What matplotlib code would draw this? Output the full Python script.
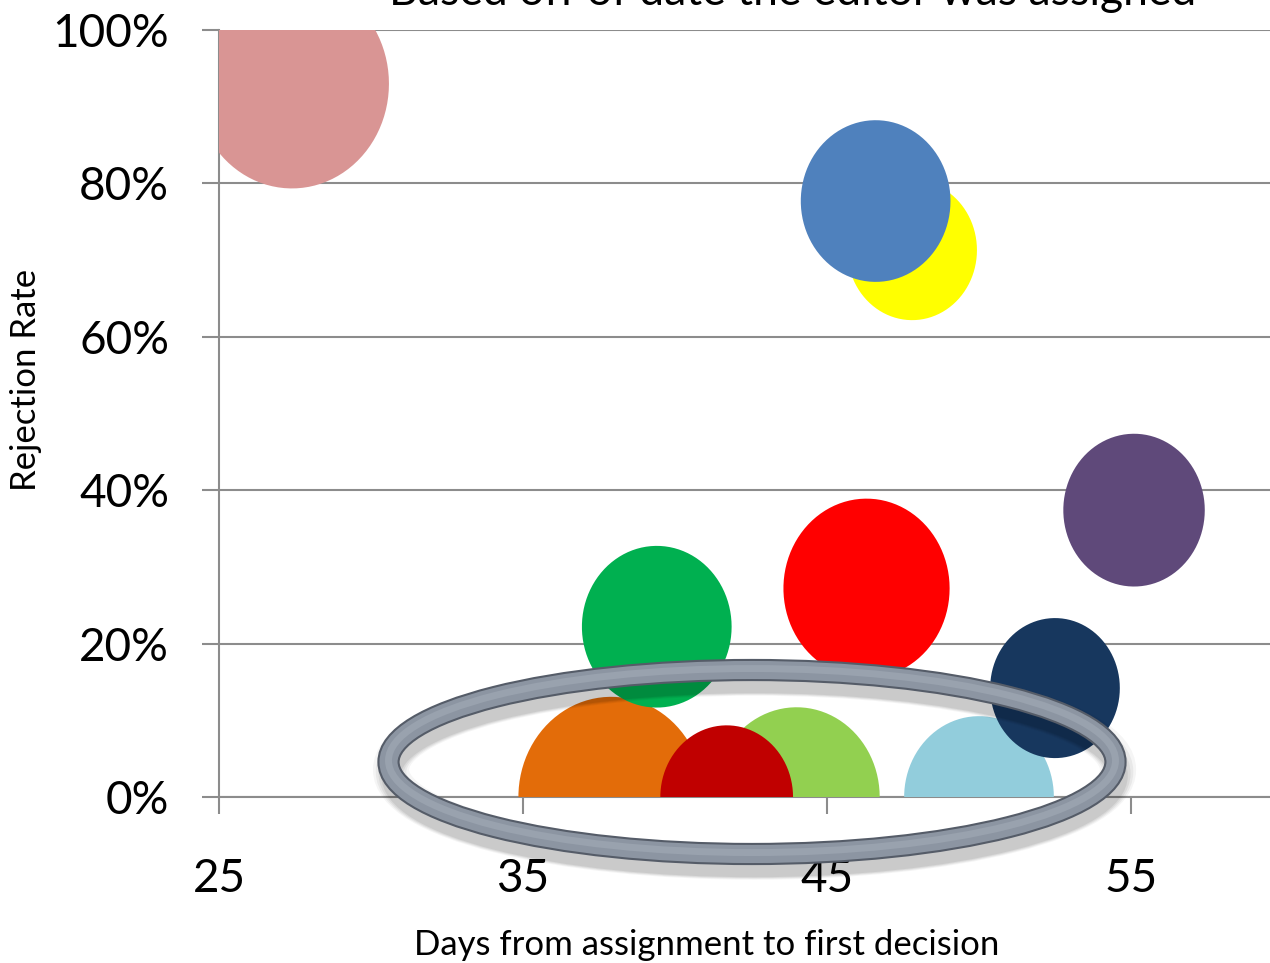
import numpy as np
import matplotlib.pyplot as plt
from matplotlib.path import Path
from matplotlib.patches import Ellipse

# bubble data: days to first decision, rejection rate, number of manuscripts
days = [27.4, 47.8, 46.6, 37.9, 44.0, 41.7, 39.4, 50.0, 52.5, 46.3, 55.1]
rejection = [0.93, 0.713, 0.777, 0.0, 0.0, 0.0, 0.222, 0.0, 0.142, 0.272, 0.374]
manuscripts = [94, 42, 56, 86, 69, 44, 56, 56, 42, 69, 50]
colors = ['#D99594', '#FFFF00', '#4F81BD', '#E36C09', '#92D050', '#C00000',
          '#00B050', '#92CDDC', '#17375E', '#FF0000', '#5F497A']

y_ticks = [0, 0.2, 0.4, 0.6, 0.8, 1.0]
y_labels = ['0%', '20%', '40%', '60%', '80%', '100%']
x_ticks = [25, 35, 45, 55]

font = 'Lato'
grid_col = '#8C8C8C'

fig = plt.figure(figsize=(12.7, 9.63), dpi=100)
ax = fig.add_axes([219 / 1270, 1 - 797 / 963, 1 - 219 / 1270, (797 - 30) / 963])

# the chart was stretched a bit vertically, so bubbles are slightly tall ellipses
t = np.linspace(0, 2 * np.pi, 100)
oval = Path(np.column_stack([np.cos(t), 1.08 * np.sin(t)]), closed=True)

for x, y, n, c in zip(days, rejection, manuscripts, colors):
    ax.scatter([x], [y], s=242 * n, marker=oval, color=c, edgecolors='none', zorder=3)

ax.set_xlim(25, 25 + (1270 - 219) / 30.4)
ax.set_ylim(0, 1)
ax.set_xticks(x_ticks)
ax.set_xticklabels([str(v) for v in x_ticks], fontsize=33, family=font)
ax.set_yticks(y_ticks)
ax.set_yticklabels(y_labels, fontsize=33, family=font)
ax.tick_params(axis='both', length=12, width=1.5, color=grid_col, direction='out')
ax.tick_params(axis='x', pad=32)
ax.tick_params(axis='y', pad=24)
ax.grid(axis='y', color=grid_col, linewidth=1.5, zorder=0)
ax.set_axisbelow(True)
for side in ['top', 'right']:
    ax.spines[side].set_visible(False)
for side in ['left', 'bottom']:
    ax.spines[side].set_color(grid_col)
    ax.spines[side].set_linewidth(1.5)

ax.set_xlabel('Days from assignment to first decision', fontsize=25, family=font)
ax.xaxis.set_label_coords(0.464, -0.172)
ax.set_ylabel('Rejection Rate', fontsize=25, family=font)
ax.yaxis.set_label_coords(-0.168, 0.544)

# title, cut off at the top edge just like in the source image
fig.text(793 / 1270, 1 - 5 / 963, 'Based off of date the editor was assigned', fontsize=32,
         family=font, ha='center', va='baseline')

# grey highlight ring around the zero-rejection bubbles
cx, cy = 752 / 1270, 1 - 762 / 963
w, h = 727 / 1270, 184 / 963
for k, a in enumerate([0.04, 0.05, 0.06, 0.07]):
    fig.add_artist(Ellipse((cx + 0.002, cy - 0.008 - k * 0.002), w, h, fill=False,
                           lw=26 - 4 * k, ec='black', alpha=a, transform=fig.transFigure))
fig.add_artist(Ellipse((cx, cy), w, h, fill=False, lw=16, ec='#555C68', transform=fig.transFigure))
fig.add_artist(Ellipse((cx, cy), w, h, fill=False, lw=13, ec='#8C95A2', transform=fig.transFigure))
fig.add_artist(Ellipse((cx, cy + 0.0015), w, h, fill=False, lw=5, ec='#99A2AE', transform=fig.transFigure))

fig.savefig('out.png', dpi=100)
